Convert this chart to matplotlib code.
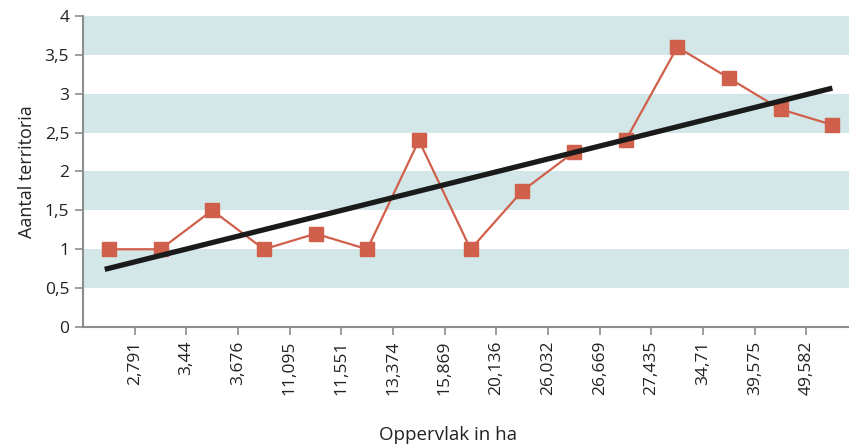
import numpy as np
import matplotlib
matplotlib.use("Agg")
import matplotlib.pyplot as plt

plt.rcParams['font.family'] = ['Open Sans', 'DejaVu Sans']

# data
area_labels = ["2,791", "3,44", "3,676", "11,095", "11,551", "13,374", "15,869",
               "20,136", "26,032", "26,669", "27,435", "34,71", "39,575", "49,582"]
territories = [1, 1, 1.5, 1, 1.2, 1, 2.4, 1, 1.75, 2.25, 2.4, 3.6, 3.2, 2.8, 2.6]
y_ticks = [0, 0.5, 1, 1.5, 2, 2.5, 3, 3.5, 4]
y_tick_labels = ["0", "0,5", "1", "1,5", "2", "2,5", "3", "3,5", "4"]

band_color = "#d3e7e8"
line_color = "#d0604b"
axis_color = "#8c8c8c"

fig = plt.figure(figsize=(8.49, 4.44), dpi=100)
ax = fig.add_axes([0.0978, 0.2635, 0.913, 0.7005])

for lo in [0.5, 1.5, 2.5, 3.5]:
    ax.axhspan(lo, lo + 0.5, color=band_color, lw=0, zorder=0)

x = np.arange(len(territories))
ax.plot(x, territories, color=line_color, lw=1.6, marker="s", ms=9.5,
        markeredgecolor=line_color, zorder=3)

# trend line
k, b = np.polyfit(x, territories, 1)
xt = np.array([-0.08, x[-1]])
ax.plot(xt, k * xt + b, color="#1a1a1a", lw=3.8, solid_capstyle="butt", zorder=4)

ax.set_xlim(-0.5, len(territories) - 0.5)
ax.set_ylim(0, 4)
ax.set_yticks(y_ticks)
ax.set_yticklabels(y_tick_labels)
ax.set_xticks(np.arange(len(area_labels)) + 0.5)
ax.set_xticklabels(area_labels, rotation=90)

for s in ["top", "right"]:
    ax.spines[s].set_visible(False)
for s in ["left", "bottom"]:
    ax.spines[s].set_color(axis_color)
    ax.spines[s].set_linewidth(1.5)
ax.tick_params(axis="both", colors=axis_color, width=1.2, length=6,
               labelcolor="#222222", labelsize=12.5)
ax.tick_params(axis="y", pad=4)
ax.tick_params(axis="x", pad=4)

ax.set_ylabel("Aantal territoria", fontsize=13, color="#222222", labelpad=6)
fig.text(448 / 849, 0.0, "Oppervlak in ha", ha="center", va="bottom",
         fontsize=13.5, color="#222222")

fig.savefig("out.png", dpi=100)
